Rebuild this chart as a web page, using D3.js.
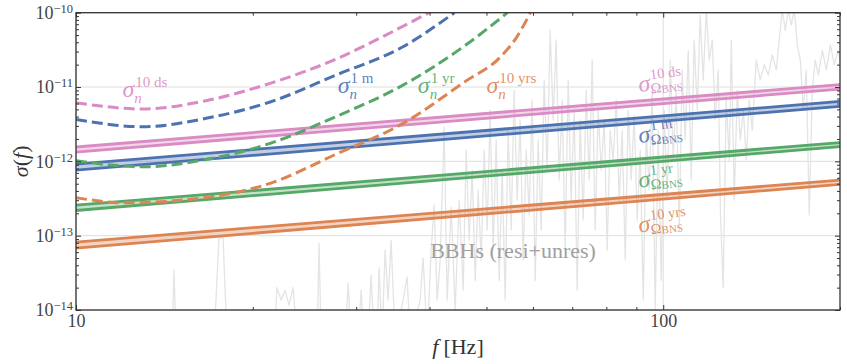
<!DOCTYPE html>
<html>
<head>
<meta charset="utf-8">
<script src="https://cdn.jsdelivr.net/npm/d3@7"></script>
<style>
  body { margin: 0; background: #fff; }
  text { font-family: "Liberation Serif", "DejaVu Serif", serif; }
</style>
</head>
<body>
<div id="vis"></div>
<script>
// ---- data ----
// axis ticks
var xMajorTicks = [10, 100];
var yMajorTicks = [1e-14, 1e-13, 1e-12, 1e-11, 1e-10];
var yTickExponents = ["−14", "−13", "−12", "−11", "−10"];

// BNS sigma bands (straight power laws on log-log), values at 10 Hz and 200 Hz
var bnsFreq = [10, 200];
var bns10dsUpper = [1.56e-12, 1.08e-11], bns10dsLower = [1.33e-12, 9.4e-12];
var bns1mUpper = [9.2e-13, 6.4e-12], bns1mLower = [7.6e-13, 5.5e-12];
var bns1yrUpper = [2.58e-13, 1.79e-12], bns1yrLower = [2.18e-13, 1.58e-12];
var bns10yrsUpper = [8.2e-14, 5.6e-13], bns10yrsLower = [6.8e-14, 4.9e-13];

// noise sigma curves (dashed)
var noise10dsFreq = [10, 13, 16.65, 21.47, 27.73, 33.7, 39.9];
var noise10ds = [6.15e-12, 5.06e-12, 6.55e-12, 1.13e-11, 2.38e-11, 5.0e-11, 1e-10];
var noise1mFreq = [10, 13, 16.65, 21.47, 27.73, 36.04, 44.1];
var noise1m = [3.67e-12, 2.92e-12, 3.79e-12, 6.34e-12, 1.45e-11, 3.48e-11, 1e-10];
var noise1yrFreq = [10, 13, 16.65, 21.47, 27.73, 36.04, 46.1, 54.3];
var noise1yr = [1.02e-12, 8.45e-13, 1.06e-12, 1.76e-12, 4.01e-12, 1.06e-11, 3.67e-11, 1e-10];
var noise10yrsFreq = [10, 12.16, 16.65, 21.47, 27.73, 36.04, 46.1, 52.8, 56.3, 59.4];
var noise10yrs = [3.24e-13, 2.77e-13, 3.27e-13, 5.1e-13, 1.25e-12, 3.24e-12, 1.2e-11, 2.53e-11, 4.7e-11, 1e-10];

// BBHs (resi+unres) background curve, grey
var bbhFreq = [10.0, 14.18, 14.57, 14.69, 14.80, 17.18, 17.52, 17.80, 18.08, 21.75, 22.00, 22.35, 22.70, 23.06, 23.43, 23.80,
  25.74, 25.94, 26.14, 28.73, 29.07, 29.41, 30.23, 30.59, 30.95, 31.44, 31.81, 32.19, 32.57, 32.82, 33.21, 33.60, 34.00, 34.40,
  34.95, 36.06, 36.63, 37.07, 38.55, 39.01, 39.63, 40.25, 40.73, 41.21, 41.70, 42.36, 42.86, 43.54, 44.23, 44.93, 45.64, 46.18,
  46.72, 47.28, 47.84, 48.40, 48.98, 49.56, 50.14, 50.73, 51.33, 51.94, 52.56, 53.18, 53.81, 54.44, 55.09, 55.74, 56.40, 57.07,
  57.74, 58.43, 59.12, 59.82, 60.53, 61.24, 61.97, 62.70, 63.44, 64.19, 64.95, 65.72, 66.50, 67.29, 68.08, 68.89, 69.70, 70.53,
  71.36, 72.21, 73.06, 73.93, 74.80, 75.69, 76.58, 77.49, 78.41, 79.34, 80.27, 81.22, 82.19, 83.16, 84.14, 85.14, 86.15, 87.17,
  88.20, 89.24, 90.30, 91.37, 92.45, 93.54, 94.65, 95.77, 96.90, 98.05, 99.22, 100.4, 101.6, 102.8, 104.0, 105.2, 106.5, 107.7,
  109.0, 110.3, 111.6, 112.9, 114.3, 115.6, 117.0, 118.4, 119.8, 121.2, 122.6, 124.1, 125.1, 126.5, 128.0, 129.6, 130.6, 132.1,
  133.7, 135.3, 136.9, 138.5, 140.1, 141.8, 144.0, 146.3, 148.6, 151.0, 153.4, 155.8, 157.6, 159.5, 161.4, 163.3, 165.2, 167.2,
  169.2, 171.2, 173.2, 175.2, 177.3, 179.4, 181.5, 183.7, 186.6, 189.6, 192.6, 195.6, 198.7, 200.3];
var bbhSigma = [4e-15, 4e-15, 4e-15, 3.4e-14, 4e-15, 4e-15, 9.3e-14, 9.3e-14, 4e-15, 4e-15, 2.0e-14, 1.36e-14, 1.85e-14, 1.16e-14, 2.0e-14, 4e-15,
  4e-15, 7.9e-14, 4e-15, 4e-15, 2.3e-14, 4e-15, 4e-15, 1.85e-14, 4e-15, 4e-15, 2.95e-14, 4e-15, 4e-15, 3.7e-14, 4e-15, 6.4e-14, 1.36e-14, 8.7e-14,
  4e-15, 1.36e-14, 2.8e-14, 4e-15, 1.36e-14, 5.0e-14, 4e-15, 6.4e-14, 2.6e-13, 1.36e-14, 4.7e-14, 2.9e-12, 1.36e-14, 2.4e-13, 1.0e-14, 3.0e-13, 1.85e-14, 1.42e-12,
  8.7e-14, 7.6e-13, 2.5e-14, 4.1e-13, 4.7e-14, 1.42e-12, 1.19e-13, 4.9e-12, 6.4e-14, 1.94e-12, 2.5e-14, 7.6e-13, 1.36e-14, 2.6e-12, 1.19e-13, 9.1e-12, 3.0e-13, 3.6e-12,
  4.7e-14, 1.42e-12, 1.9e-13, 6.7e-12, 2.5e-14, 1.94e-12, 1.19e-13, 1.24e-11, 7.6e-13, 5.8e-11, 3.6e-12, 4.3e-11, 5.6e-13, 6.7e-12, 6.4e-14, 1.24e-11, 3.0e-13, 4.9e-12,
  1.85e-14, 3.6e-12, 1.62e-13, 9.1e-12, 5.6e-13, 2.3e-11, 1.19e-13, 4.9e-12, 7.6e-13, 3.6e-12, 6.4e-14, 2.6e-12, 1.04e-12, 6.7e-12, 3.0e-13, 2.6e-12, 4.7e-14, 4.9e-12,
  5.6e-13, 4.2e-12, 1.62e-13, 1.42e-12, 1.36e-14, 2.6e-12, 4.1e-13, 9.1e-12, 1.0e-14, 2.6e-12, 2.5e-14, 4.9e-12, 3.0e-13, 2.3e-11, 1.04e-12, 9.1e-12, 1.19e-13, 1.7e-11,
  1.94e-12, 3.1e-11, 5.6e-13, 4.3e-11, 4.9e-12, 9.3e-11, 1.24e-11, 1.1e-10, 2.3e-11, 4.3e-11, 3.6e-12, 1.7e-11, 2.2e-13, 2.0e-14, 6.7e-12, 1.04e-12, 4.3e-11, 3.0e-13,
  9.1e-12, 1.94e-12, 4.9e-12, 1.04e-12, 6.7e-12, 2.6e-12, 2.3e-11, 1.24e-11, 2.0e-11, 1.45e-11, 2.7e-11, 1.7e-11, 4.3e-11, 1.1e-10, 5.8e-11, 1.1e-10, 6.8e-11, 1.1e-10,
  3.7e-11, 2.3e-11, 4.9e-12, 1.7e-11, 1.9e-13, 9.1e-12, 2.3e-11, 1.45e-11, 3.1e-11, 1.7e-11, 3.7e-11, 2.0e-11, 3.1e-11, 2.3e-11];

// seaborn "deep" colours
var colors = {ds: "#da8bc3", m: "#4c72b0", yr: "#55a868", yrs: "#dd8452"};

// ---- layout ----
var W = 847, H = 364;
var margin = {top: 12.7, right: 7, bottom: 54, left: 76};
var plotW = W - margin.left - margin.right,
    plotH = H - margin.top - margin.bottom;

var x = d3.scaleLog().domain([10, 200]).range([margin.left, margin.left + plotW]);
var y = d3.scaleLog().domain([1e-14, 1e-10]).range([margin.top + plotH, margin.top]);

var svg = d3.select("#vis").append("svg")
    .attr("width", W)
    .attr("height", H);

svg.append("defs").append("clipPath").attr("id", "clip")
  .append("rect")
    .attr("x", margin.left).attr("y", margin.top)
    .attr("width", plotW).attr("height", plotH);

// grid (major ticks only)
var grid = svg.append("g").attr("stroke", "#dedede").attr("stroke-width", 1);
grid.selectAll(".gy").data(yMajorTicks).enter().append("line")
    .attr("x1", margin.left).attr("x2", margin.left + plotW)
    .attr("y1", function(d) { return y(d); }).attr("y2", function(d) { return y(d); });
grid.selectAll(".gx").data(xMajorTicks).enter().append("line")
    .attr("y1", margin.top).attr("y2", margin.top + plotH)
    .attr("x1", function(d) { return x(d); }).attr("x2", function(d) { return x(d); });

var plot = svg.append("g").attr("clip-path", "url(#clip)");

// grey BBH background
var line = d3.line()
    .x(function(d) { return x(d[0]); })
    .y(function(d) { return y(d[1]); });
plot.append("path")
    .datum(d3.zip(bbhFreq, bbhSigma))
    .attr("fill", "none")
    .attr("stroke", "#e4e4e4")
    .attr("stroke-width", 1.3)
    .attr("stroke-linejoin", "round")
    .attr("d", line);

// BNS bands: light fill between two solid lines
function band(upper, lower, color) {
  var pts = bnsFreq.map(function(f, i) { return [f, upper[i], lower[i]]; });
  plot.append("path").datum(pts)
      .attr("fill", color).attr("fill-opacity", 0.35)
      .attr("d", d3.area()
        .x(function(d) { return x(d[0]); })
        .y0(function(d) { return y(d[2]); })
        .y1(function(d) { return y(d[1]); }));
  [upper, lower].forEach(function(vals) {
    plot.append("path").datum(d3.zip(bnsFreq, vals))
        .attr("fill", "none").attr("stroke", color).attr("stroke-width", 2.8)
        .attr("d", line);
  });
}
band(bns10dsUpper, bns10dsLower, colors.ds);
band(bns1mUpper, bns1mLower, colors.m);
band(bns1yrUpper, bns1yrLower, colors.yr);
band(bns10yrsUpper, bns10yrsLower, colors.yrs);

// dashed noise curves
var smooth = d3.line()
    .x(function(d) { return x(d[0]); })
    .y(function(d) { return y(d[1]); })
    .curve(d3.curveMonotoneX);
function noise(freq, vals, color) {
  plot.append("path").datum(d3.zip(freq, vals))
      .attr("fill", "none").attr("stroke", color).attr("stroke-width", 3)
      .attr("stroke-dasharray", "11,5")
      .attr("d", smooth);
}
noise(noise10dsFreq, noise10ds, colors.ds);
noise(noise1mFreq, noise1m, colors.m);
noise(noise1yrFreq, noise1yr, colors.yr);
noise(noise10yrsFreq, noise10yrs, colors.yrs);

// labels: sigma with stacked super- and subscript
function sigmaLabel(f, s, color, sup, sub, subsub, angle) {
  var g = svg.append("g")
      .attr("transform", "translate(" + x(f) + "," + y(s) + ") rotate(" + angle + ")")
      .attr("fill", color).attr("fill-opacity", 0.9);
  var t = g.append("text").attr("font-style", "italic").attr("font-size", 24).text("σ");
  var w = t.node().getComputedTextLength();
  g.append("text").attr("x", w + 1).attr("y", subsub ? -11 : -10)
      .attr("font-size", subsub ? 14.5 : 15).text(sup);
  var st = g.append("text").attr("x", w).attr("y", subsub ? 3 : 6).attr("font-size", subsub ? 14.5 : 15);
  st.append("tspan").attr("font-style", subsub ? null : "italic").text(sub);
  if (subsub) st.append("tspan").attr("font-size", 11).attr("dy", 1).text(subsub);
}
sigmaLabel(12.0, 7.3e-12, colors.ds, "10 ds", "n", null, 0);
sigmaLabel(27.9, 8.3e-12, colors.m, "1 m", "n", null, 0);
sigmaLabel(38.2, 8.3e-12, colors.yr, "1 yr", "n", null, 0);
sigmaLabel(50.0, 8.3e-12, colors.yrs, "10 yrs", "n", null, 0);
sigmaLabel(91.0, 8.6e-12, colors.ds, "10 ds", "Ω", "BNS", -7);
sigmaLabel(91.0, 1.76e-12, colors.m, "1 m", "Ω", "BNS", -7);
sigmaLabel(91.0, 4.4e-13, colors.yr, "1 yr", "Ω", "BNS", -7);
sigmaLabel(91.0, 1.1e-13, colors.yrs, "10 yrs", "Ω", "BNS", -7);

svg.append("text")
    .attr("x", x(40.1)).attr("y", y(5.0e-14))
    .attr("font-size", 22).attr("fill", "#a0a0a0")
    .text("BBHs (resi+unres)");

// axes, ticks pointing inward
var axisColor = "#333";
var minorX = x.ticks().filter(function(d) { return xMajorTicks.indexOf(d) < 0; });
var minorY = y.ticks().filter(function(d) { return yMajorTicks.indexOf(d) < 0; });

function styleAxis(g) {
  g.select(".domain").remove();
  g.selectAll(".tick line").attr("stroke", axisColor).attr("stroke-width", 1);
}
// bottom
svg.append("g").attr("transform", "translate(0," + (margin.top + plotH) + ")")
    .call(d3.axisBottom(x).tickValues(minorX).tickSize(-3).tickFormat("")).call(styleAxis);
var xb = svg.append("g").attr("transform", "translate(0," + (margin.top + plotH) + ")")
    .call(d3.axisBottom(x).tickValues(xMajorTicks).tickSize(-5).tickPadding(4)
      .tickFormat(function(d) { return d; })).call(styleAxis);
xb.selectAll("text").attr("font-size", 18).attr("fill", "#444")
    .style("font-family", "'Liberation Serif', serif");
// top
svg.append("g").attr("transform", "translate(0," + margin.top + ")")
    .call(d3.axisTop(x).tickValues(minorX).tickSize(-3).tickFormat("")).call(styleAxis);
svg.append("g").attr("transform", "translate(0," + margin.top + ")")
    .call(d3.axisTop(x).tickValues(xMajorTicks).tickSize(-5).tickFormat("")).call(styleAxis);
// left
svg.append("g").attr("transform", "translate(" + margin.left + ",0)")
    .call(d3.axisLeft(y).tickValues(minorY).tickSize(-3).tickFormat("")).call(styleAxis);
var yl = svg.append("g").attr("transform", "translate(" + margin.left + ",0)")
    .call(d3.axisLeft(y).tickValues(yMajorTicks).tickSize(-5).tickPadding(3).tickFormat("")).call(styleAxis);
yl.selectAll(".tick text").each(function(d, i) {
  var t = d3.select(this).attr("font-size", 18).attr("fill", "#444").attr("dy", "0.33em")
      .style("font-family", "'Liberation Serif', serif");
  t.append("tspan").text("10");
  t.append("tspan").attr("font-size", 12.5).attr("dy", -6).text(yTickExponents[i]);
});
// right
svg.append("g").attr("transform", "translate(" + (margin.left + plotW) + ",0)")
    .call(d3.axisRight(y).tickValues(minorY).tickSize(-3).tickFormat("")).call(styleAxis);
svg.append("g").attr("transform", "translate(" + (margin.left + plotW) + ",0)")
    .call(d3.axisRight(y).tickValues(yMajorTicks).tickSize(-5).tickFormat("")).call(styleAxis);

// frame
svg.append("rect")
    .attr("x", margin.left).attr("y", margin.top)
    .attr("width", plotW).attr("height", plotH)
    .attr("fill", "none").attr("stroke", axisColor).attr("stroke-width", 1.3);

// axis titles
var xt = svg.append("text")
    .attr("x", 458).attr("y", 354)
    .attr("text-anchor", "middle").attr("font-size", 22).attr("fill", "#333");
xt.append("tspan").attr("font-style", "italic").text("f");
xt.append("tspan").attr("dx", 5).text("[Hz]");

var yt = svg.append("text")
    .attr("transform", "translate(28," + (margin.top + plotH / 2) + ") rotate(-90)")
    .attr("text-anchor", "middle").attr("font-size", 22).attr("fill", "#333");
yt.append("tspan").attr("font-style", "italic").text("σ");
yt.append("tspan").text("(");
yt.append("tspan").attr("font-style", "italic").text("f");
yt.append("tspan").text(")");
</script>
</body>
</html>
